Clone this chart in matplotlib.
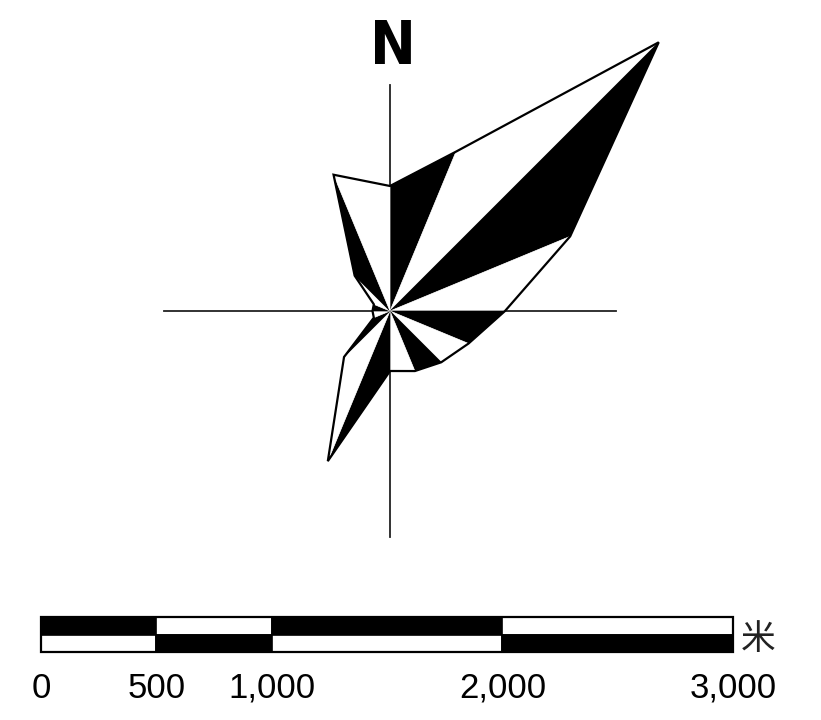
import numpy as np
import matplotlib
matplotlib.use("Agg")
import matplotlib.pyplot as plt
from matplotlib.patches import Polygon, Rectangle

# wind rose: 16 directions, frequency (%) per direction
directions = ["N", "NNE", "NE", "ENE", "E", "ESE", "SE", "SSE",
              "S", "SSW", "SW", "WSW", "W", "WNW", "NW", "NNW"]
freq = [5.0, 6.9, 15.2, 7.8, 4.6, 3.4, 2.9, 2.6,
        2.4, 6.5, 2.6, 0.7, 0.7, 0.7, 2.0, 5.9]

# scale bar
bar_ticks = [0, 500, 1000, 2000, 3000]
bar_labels = ["0", "500", "1,000", "2,000", "3,000"]
bar_unit = "米"

# layout (pixel space of the output image)
W, H = 821, 720
cx, cy = 390, 311
px_per_pct = 25.0
cross_half = 226
bar_x0, bar_x1 = 41, 733
bar_top, bar_mid, bar_bot = 617, 635, 652

fig = plt.figure(figsize=(W / 100, H / 100), dpi=100)
ax = fig.add_axes([0, 0, 1, 1])
ax.set_xlim(0, W)
ax.set_ylim(H, 0)
ax.axis("off")

# cross hairs under the rose
ax.plot([cx, cx], [cy - cross_half, cy + cross_half], color="#222222", lw=1.3, zorder=1)
ax.plot([cx - cross_half, cx + cross_half], [cy, cy], color="#222222", lw=1.3, zorder=1)

ang = np.deg2rad(np.arange(len(freq)) * 22.5)
r = np.array(freq) * px_per_pct
px = cx + r * np.sin(ang)
py = cy - r * np.cos(ang)

# alternating black / white wedges between neighbouring directions
n = len(freq)
for i in range(n):
    j = (i + 1) % n
    color = "black" if i % 2 == 0 else "white"
    tri = Polygon([[cx, cy], [px[i], py[i]], [px[j], py[j]]], closed=True,
                  facecolor=color, edgecolor=color, lw=0.5, zorder=2)
    ax.add_patch(tri)

outline = Polygon(np.column_stack([px, py]), closed=True, fill=False,
                  edgecolor="black", lw=1.6, zorder=3)
ax.add_patch(outline)

ax.text(cx + 3, 48, "N", ha="center", va="center", fontsize=44, fontweight="bold",
        family="DejaVu Sans", fontstretch="condensed")

# scale bar
scale = (bar_x1 - bar_x0) / bar_ticks[-1]
for k in range(len(bar_ticks) - 1):
    xa = bar_x0 + bar_ticks[k] * scale
    xb = bar_x0 + bar_ticks[k + 1] * scale
    top_col = "black" if k % 2 == 0 else "white"
    bot_col = "white" if k % 2 == 0 else "black"
    ax.add_patch(Rectangle((xa, bar_top), xb - xa, bar_mid - bar_top,
                           facecolor=top_col, edgecolor="black", lw=1.2))
    ax.add_patch(Rectangle((xa, bar_mid), xb - xa, bar_bot - bar_mid,
                           facecolor=bot_col, edgecolor="black", lw=1.2))
ax.add_patch(Rectangle((bar_x0, bar_top), bar_x1 - bar_x0, bar_bot - bar_top,
                       fill=False, edgecolor="black", lw=1.6))

for t, lab in zip(bar_ticks, bar_labels):
    ax.text(bar_x0 + t * scale, 688, lab, ha="center", va="center",
            fontsize=25, family="Liberation Sans")

ax.text(758, 640, bar_unit, ha="center", va="center", fontsize=25,
        family=["Noto Sans CJK SC", "DejaVu Sans"], color="#222222")

fig.savefig("out.png", dpi=100)
